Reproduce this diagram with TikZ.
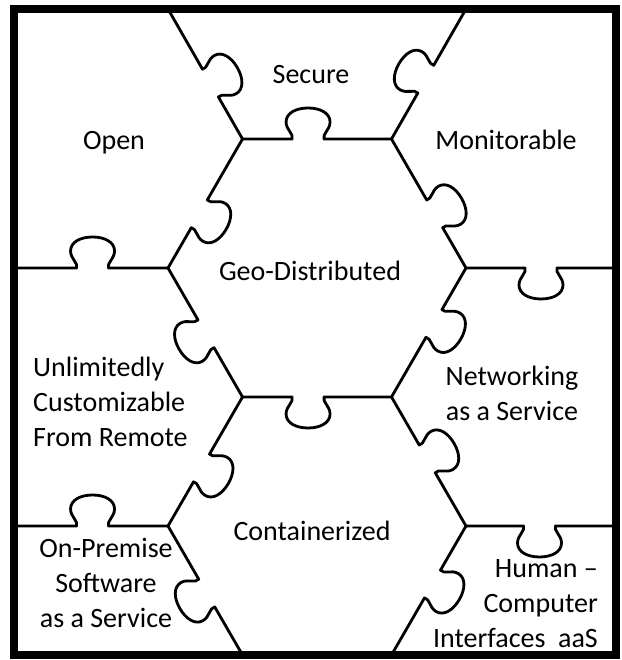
\documentclass[tikz,border=0pt]{standalone}
\usepackage{fontspec}
\setmainfont{Carlito}

% One seam of the puzzle: a straight cut from #1 to #2 with a knob at
% fraction #3 of its length; #4 = 1 puts the knob on the left of the
% direction of travel, -1 on the right.
\newcommand\puzzleedge[4]{%
  \pgfpointanchor{#1}{center}\pgfgetlastxy\pzAx\pzAy
  \pgfpointanchor{#2}{center}\pgfgetlastxy\pzBx\pzBy
  \pgfmathsetmacro\pzAng{atan2(\pzBy-\pzAy,\pzBx-\pzAx)}%
  \pgfmathsetmacro\pzLen{veclen(\pzBx-\pzAx,\pzBy-\pzAy)}%
  \pgfmathsetmacro\pzPos{#3*\pzLen}%
  \begin{scope}[shift={(#1)}, rotate=\pzAng, yscale=#4]
    \draw[seam] (0,0) -- (\pzPos-16,0)
      .. controls (\pzPos-14,5) and (\pzPos-22,9) .. (\pzPos-22,17)
      .. controls (\pzPos-22,26) and (\pzPos-12,31) .. (\pzPos,31)
      .. controls (\pzPos+12,31) and (\pzPos+22,26) .. (\pzPos+22,17)
      .. controls (\pzPos+22,9) and (\pzPos+14,5) .. (\pzPos+16,0)
      -- (\pzLen,0);
  \end{scope}}

\begin{document}
\begin{tikzpicture}[x=1pt,y=1pt,
  seam/.style={line width=2.8pt, line join=round, line cap=round},
  outerframe/.style={line width=8pt},
  tagtext/.style={font=\fontsize{28}{35}\selectfont, inner sep=0pt}]

\useasboundingbox (0,0) rectangle (621,660);

% corners of the two central hexagons and where the seams meet the frame
\coordinate (A) at (242.5,521);
\coordinate (B) at (391.5,521);
\coordinate (C) at (466,392);
\coordinate (D) at (391.5,263);
\coordinate (E) at (242.5,263);
\coordinate (F) at (168,392);
\coordinate (G) at (466,134);
\coordinate (H) at (391.5,5);
\coordinate (I) at (242.5,5);
\coordinate (J) at (168,134);
\coordinate (T1) at (168,651);
\coordinate (T2) at (466,651);
\coordinate (L1) at (14,392);
\coordinate (R1) at (616,392);
\coordinate (L2) at (14,134);
\coordinate (R2) at (616,134);

% seams
\puzzleedge{T1}{A}{0.57}{1}
\puzzleedge{T2}{B}{0.54}{-1}
\puzzleedge{A}{B}{0.44}{1}
\puzzleedge{A}{F}{0.58}{1}
\puzzleedge{B}{C}{0.58}{1}
\puzzleedge{C}{R1}{0.50}{-1}
\puzzleedge{L1}{F}{0.51}{1}
\puzzleedge{F}{E}{0.51}{-1}
\puzzleedge{C}{D}{0.43}{1}
\puzzleedge{E}{D}{0.44}{-1}
\puzzleedge{E}{J}{0.55}{1}
\puzzleedge{D}{G}{0.48}{1}
\puzzleedge{G}{R2}{0.49}{-1}
\puzzleedge{L2}{J}{0.51}{1}
\puzzleedge{J}{I}{0.52}{-1}
\puzzleedge{G}{H}{0.45}{1}

% outer frame
\draw[outerframe] (14,5) rectangle (616,651);

% piece labels
\node[tagtext] (secure) at (311,585) {Secure};
\node[tagtext] (open) at (114,517) {Open};
\node[tagtext] (monitor) at (506,520) {Monitorable};
\node[tagtext] (geo) at (310,389) {Geo-Distributed};
\node[tagtext, align=left, anchor=west] (custom) at (33,258) {Unlimitedly\\Customizable\\From Remote};
\node[tagtext, align=center] (network) at (512,267) {Networking\\as a Service};
\node[tagtext] (container) at (312,129) {Containerized};
\node[tagtext, align=center] (onprem) at (106,77) {On-Premise\\Software\\as a Service};
\node[tagtext, align=right, anchor=east] (human) at (598,56) {Human --\\Computer\\Interfaces~ aaS};
\end{tikzpicture}
\end{document}
